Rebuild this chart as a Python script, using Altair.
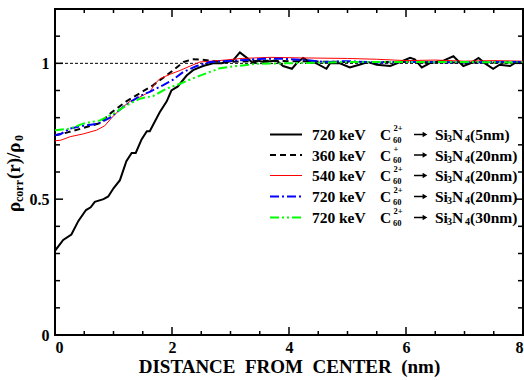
import altair as alt
import pandas as pd

# ---------------- data ----------------
x_black = [0, 0.14, 0.28, 0.40, 0.53, 0.61, 0.68, 0.83, 0.91, 1.0, 1.11, 1.22, 1.31, 1.38, 1.48,
           1.57, 1.62, 1.79, 1.91, 1.99, 2.10, 2.25, 2.36, 2.53, 2.70, 2.85, 3.04, 3.16, 3.28, 3.39,
           3.47, 3.56, 3.79, 3.90, 4.05, 4.13, 4.24, 4.36, 4.47, 4.64, 4.70, 4.87, 5.04, 5.20, 5.35,
           5.50, 5.73, 5.90, 6.07, 6.15, 6.27, 6.40, 6.50, 6.64, 6.81, 6.98, 7.10, 7.24, 7.35, 7.49,
           7.60, 7.78, 7.89, 8.0]
y_black = [0.31, 0.35, 0.37, 0.42, 0.46, 0.47, 0.49, 0.50, 0.51, 0.54, 0.57, 0.64, 0.67, 0.67, 0.72,
           0.75, 0.75, 0.82, 0.86, 0.90, 0.915, 0.955, 0.975, 0.99, 1.0, 1.0, 1.01, 1.04, 1.02, 1.0,
           1.01, 1.005, 1.01, 0.99, 0.98, 1.0, 1.02, 1.005, 1.0, 0.98, 1.0, 1.0, 0.985, 0.995, 1.005,
           0.995, 0.99, 1.005, 1.02, 1.015, 0.985, 1.0, 1.005, 1.01, 1.026, 0.99, 1.0, 1.02, 1.0, 0.98,
           0.995, 0.99, 1.005, 1.0]

x_dash = [0, 0.2, 0.45, 0.77, 0.97, 1.22, 1.45, 1.68, 1.91, 2.05, 2.2, 2.35, 2.5, 2.70, 3.0, 3.5, 4.0,
          5.0, 6.0, 7.0, 8.0]
y_dash = [0.735, 0.745, 0.76, 0.78, 0.82, 0.86, 0.89, 0.92, 0.956, 0.98, 1.005, 1.015, 1.014, 1.009,
          1.005, 1.01, 1.008, 1.005, 1.005, 1.003, 1.003]

x_red = [0, 0.1, 0.26, 0.48, 0.71, 0.85, 0.97, 1.11, 1.28, 1.45, 1.62, 1.71, 1.79, 1.97, 2.14, 2.31,
         2.48, 2.8, 3.2, 3.68, 4.2, 5.0, 5.5, 6.0, 6.5, 7.0, 7.5, 8.0]
y_red = [0.715, 0.717, 0.73, 0.74, 0.754, 0.77, 0.80, 0.83, 0.86, 0.876, 0.895, 0.925, 0.943, 0.96,
         0.974, 0.99, 1.005, 1.01, 1.018, 1.022, 1.02, 1.018, 1.015, 1.01, 1.012, 1.008, 1.01, 1.008]

x_blue = [0, 0.1, 0.26, 0.48, 0.74, 0.94, 1.17, 1.45, 1.62, 1.85, 2.02, 2.19, 2.42, 2.65, 3.1, 3.56,
          3.9, 4.3, 4.6, 5.0, 5.5, 6.0, 7.0, 8.0]
y_blue = [0.735, 0.74, 0.76, 0.77, 0.778, 0.80, 0.84, 0.88, 0.895, 0.92, 0.94, 0.968, 0.99, 1.005,
          1.01, 1.017, 1.017, 1.012, 1.005, 1.008, 1.003, 1.005, 1.004, 1.005]

x_green = [0, 0.26, 0.48, 0.77, 1.0, 1.22, 1.45, 1.68, 1.91, 2.14, 2.25, 2.48, 2.82, 3.1, 3.44, 3.95,
           5.0, 6.0, 7.0, 8.0]
y_green = [0.754, 0.76, 0.778, 0.79, 0.815, 0.845, 0.87, 0.88, 0.907, 0.925, 0.935, 0.955, 0.982,
           0.99, 0.998, 1.0, 1.005, 1.005, 1.005, 1.003]

energies = ["720", "360", "540", "720", "720"]
charges = ["2+", "+", "2+", "2+", "2+"]
thickness = ["(5nm)", "(20nm)", "(20nm)", "(20nm)", "(30nm)"]

x_major = [0, 2, 4, 6, 8]
x_minor = [0.5, 1, 1.5, 2.5, 3, 3.5, 4.5, 5, 5.5, 6.5, 7, 7.5]
y_major = [0, 0.5, 1]
y_minor = [0.1, 0.2, 0.3, 0.4, 0.6, 0.7, 0.8, 0.9, 1.1]

# ---------------- styles ----------------
series = [
    (x_black, y_black, "black", 2, None),
    (x_dash, y_dash, "black", 2, [6, 4]),
    (x_red, y_red, "#ff0000", 1, None),
    (x_blue, y_blue, "#0000ff", 2, [9, 3, 2, 3]),
    (x_green, y_green, "#00ff00", 2, [9, 3, 2, 3, 2, 3]),
]

W, H = 468, 326
L, T = 55, 9
SERIF = "Liberation Serif"
NB = "\u00a0"

xs = alt.Scale(domain=[0, 8], nice=False, zero=False)
ys = alt.Scale(domain=[0, 1.2], nice=False, zero=False)

layers = []

x_title = f"DISTANCE{NB}{NB}FROM{NB}{NB}CENTER{NB}{NB}(nm)"

# reference line at 1
ref = pd.DataFrame({"x": [0, 8], "y": [1, 1]})
layers.append(
    alt.Chart(ref).mark_line(color="black", strokeWidth=1, strokeDash=[3, 2]).encode(
        x=alt.X("x:Q", scale=xs,
                axis=alt.Axis(values=x_major, format="d", title=x_title,
                              grid=False, ticks=False, domain=False, labelFont=SERIF,
                              labelFontWeight="bold", labelFontSize=16, labelPadding=4,
                              labelColor="black", titleFont=SERIF, titleFontWeight="bold",
                              titleFontSize=19, titleColor="black", titlePadding=2)),
        y=alt.Y("y:Q", scale=ys,
                axis=alt.Axis(values=y_major, format="~g", title=None, grid=False, ticks=False,
                              domain=False, labelFont=SERIF, labelFontWeight="bold",
                              labelFontSize=16, labelPadding=6, labelColor="black")),
    )
)

for xv, yv, col, sw, dash in series:
    df = pd.DataFrame({"x": xv, "y": yv})
    kw = dict(color=col, strokeWidth=sw, clip=True)
    if dash:
        kw["strokeDash"] = dash
    layers.append(alt.Chart(df).mark_line(**kw).encode(x=alt.X("x:Q", scale=xs),
                                                        y=alt.Y("y:Q", scale=ys)))

# inward ticks
def xticks(vals, length):
    df = pd.DataFrame({"x": vals})
    bot = alt.Chart(df).mark_rule(color="black", strokeWidth=1.5).encode(
        x=alt.X("x:Q", scale=xs), y=alt.value(H), y2=alt.value(H - length))
    top = alt.Chart(df).mark_rule(color="black", strokeWidth=1.5).encode(
        x=alt.X("x:Q", scale=xs), y=alt.value(0), y2=alt.value(length))
    return [bot, top]

def yticks(vals, length):
    df = pd.DataFrame({"y": vals})
    lft = alt.Chart(df).mark_rule(color="black", strokeWidth=1.5).encode(
        y=alt.Y("y:Q", scale=ys), x=alt.value(0), x2=alt.value(length))
    rgt = alt.Chart(df).mark_rule(color="black", strokeWidth=1.5).encode(
        y=alt.Y("y:Q", scale=ys), x=alt.value(W), x2=alt.value(W - length))
    return [lft, rgt]

layers += xticks(x_major, 8) + xticks(x_minor, 4) + yticks(y_major, 8) + yticks(y_minor, 5)

one = pd.DataFrame({"a": [0]})

def txt(s, xi, yi, size, align="left", angle=0, baseline="alphabetic"):
    m = dict(text=s, font=SERIF, fontWeight="bold", fontSize=size, color="black",
             align=align, baseline=baseline)
    if angle:
        m["angle"] = angle
    return alt.Chart(one).mark_text(**m).encode(x=alt.value(xi - L), y=alt.value(yi - T))

# y-axis title pieces (rotated)
yt_x = 20
layers += [
    txt("ρ", yt_x, 212, 19, angle=270),
    txt("corr", yt_x + 3, 202, 12, angle=270),
    txt("(r)/ρ", yt_x, 179, 19, angle=270),
    txt("0", yt_x + 3, 141, 12, angle=270),
]

# legend
line_y = [134.5, 155, 175.5, 196.5, 217.5]
for i in range(5):
    ly = line_y[i]
    bl = ly + 5.5
    _, _, col, sw, dash = series[i]
    kw = dict(color=col, strokeWidth=sw)
    if dash:
        kw["strokeDash"] = dash
    layers.append(alt.Chart(one).mark_rule(**kw).encode(
        x=alt.value(270 - L), x2=alt.value(302 - L), y=alt.value(ly - T)))
    layers += [
        txt(energies[i], 312, bl, 15.5),
        txt("keV", 339, bl, 15.5),
        txt("C", 380, bl, 15.5),
        txt(charges[i], 393.5, bl - 9, 8.5),
        txt("60", 393, bl + 2.5, 8.5),
        txt("Si", 435, bl, 15.5),
        txt("3", 447, bl + 2, 10),
        txt("N", 452, bl, 15.5),
        txt("4", 465, bl + 2, 10),
        txt(thickness[i], 470, bl, 15.5),
    ]
    layers.append(alt.Chart(one).mark_rule(color="black", strokeWidth=1.5).encode(
        x=alt.value(414 - L), x2=alt.value(423 - L), y=alt.value(ly - T)))
    layers.append(alt.Chart(one).mark_point(shape="triangle-right", filled=True, color="black",
                                            size=30, opacity=1).encode(
        x=alt.value(425 - L), y=alt.value(ly - T)))

chart = alt.layer(*layers).properties(
    width=W, height=H,
    padding={"left": L, "top": T, "right": 1, "bottom": 45},
    autosize=alt.AutoSizeParams(type="none"),
    background="white",
).configure_view(stroke="black", strokeWidth=2)

chart.save("out.html", embed_options={"renderer": "svg", "actions": False})
